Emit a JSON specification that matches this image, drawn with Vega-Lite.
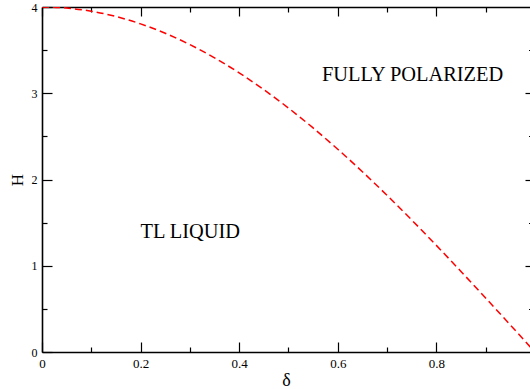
{
  "$schema": "https://vega.github.io/schema/vega-lite/v6.json",
  "width": 488,
  "height": 345,
  "autosize": {"type": "none"},
  "padding": {"left": 42, "top": 7, "right": 0, "bottom": 37},
  "background": "white",
  "config": {
    "view": {"stroke": null},
    "font": "'Liberation Serif', 'Times New Roman', 'DejaVu Serif', serif",
    "axis": {
      "grid": false,
      "labelFont": "'Liberation Serif', 'Times New Roman', 'DejaVu Serif', serif",
      "titleFont": "'Liberation Serif', 'Times New Roman', 'DejaVu Serif', serif",
      "titleFontWeight": "normal",
      "domainColor": "black",
      "tickColor": "black",
      "labelColor": "black",
      "titleColor": "black",
      "domainWidth": 1.6,
      "tickWidth": 1.2,
      "labelFlush": false,
      "labelOverlap": false
    }
  },
  "datasets": {
    "curve": [
      {"d": 0, "h": 4},
      {"d": 0.05, "h": 3.9877},
      {"d": 0.1, "h": 3.9508},
      {"d": 0.15, "h": 3.8895},
      {"d": 0.2, "h": 3.8042},
      {"d": 0.25, "h": 3.6955},
      {"d": 0.3, "h": 3.564},
      {"d": 0.35, "h": 3.4106},
      {"d": 0.4, "h": 3.2361},
      {"d": 0.45, "h": 3.0416},
      {"d": 0.5, "h": 2.8284},
      {"d": 0.55, "h": 2.5978},
      {"d": 0.6, "h": 2.3511},
      {"d": 0.65, "h": 2.09},
      {"d": 0.7, "h": 1.816},
      {"d": 0.75, "h": 1.5307},
      {"d": 0.8, "h": 1.2361},
      {"d": 0.85, "h": 0.9338},
      {"d": 0.9, "h": 0.6257},
      {"d": 0.95, "h": 0.3138},
      {"d": 1.0, "h": 0}
    ]
  },
  "resolve": {"axis": {"x": "independent", "y": "independent"}},
  "layer": [
    {
      "data": {"name": "curve"},
      "mark": {"type": "line", "color": "#ff0000", "strokeWidth": 1.5, "strokeDash": [7, 4], "clip": true, "interpolate": "monotone"},
      "encoding": {
        "x": {"field": "d", "type": "quantitative", "scale": {"domain": [0, 0.99], "nice": false, "zero": false},
          "axis": {"orient": "bottom", "values": [0, 0.2, 0.4, 0.6, 0.8], "format": "~g", "tickSize": -10, "labelPadding": 15, "labelFontSize": 13, "title": "δ", "titleFontSize": 18, "titlePadding": 1}},
        "y": {"field": "h", "type": "quantitative", "scale": {"domain": [0, 4], "nice": false},
          "axis": {"orient": "left", "values": [0, 1, 2, 3, 4], "format": "d", "tickSize": -10, "labelPadding": 15, "labelFontSize": 12, "title": "H", "titleFontSize": 17, "titlePadding": 5}}
      }
    },
    {
      "data": {"values": [{"d": 0.568, "h": 3.14, "t": "FULLY POLARIZED"}]},
      "mark": {"type": "text", "align": "left", "baseline": "alphabetic", "font": "'Liberation Serif', 'Times New Roman', 'DejaVu Serif', serif", "fontSize": 20.4, "color": "black"},
      "encoding": {
        "x": {"field": "d", "type": "quantitative",
          "axis": {"orient": "bottom", "values": [0.1, 0.3, 0.5, 0.7, 0.9], "tickSize": -5, "labels": false, "domain": false, "title": null}},
        "y": {"field": "h", "type": "quantitative",
          "axis": {"orient": "left", "values": [0.5, 1.5, 2.5, 3.5], "tickSize": -5, "labels": false, "domain": false, "title": null}},
        "text": {"field": "t"}
      }
    },
    {
      "data": {"values": [{"d": 0.2, "h": 1.32, "t": "TL LIQUID"}]},
      "mark": {"type": "text", "align": "left", "baseline": "alphabetic", "font": "'Liberation Serif', 'Times New Roman', 'DejaVu Serif', serif", "fontSize": 20.4, "color": "black"},
      "encoding": {
        "x": {"field": "d", "type": "quantitative",
          "axis": {"orient": "top", "values": [0, 0.1, 0.2, 0.3, 0.4, 0.5, 0.6, 0.7, 0.8, 0.9],
            "tickSize": {"condition": {"test": "indexof([0, 0.2, 0.4, 0.6, 0.8], datum.value) >= 0", "value": -9}, "value": -5},
            "labels": false, "title": null}},
        "y": {"field": "h", "type": "quantitative",
          "axis": {"orient": "right", "values": [0.5, 1, 1.5, 2, 2.5, 3, 3.5],
            "tickSize": {"condition": {"test": "indexof([1, 2, 3], datum.value) >= 0", "value": -5}, "value": -1.5},
            "labels": false, "domain": false, "title": null}},
        "text": {"field": "t"}
      }
    }
  ]
}
